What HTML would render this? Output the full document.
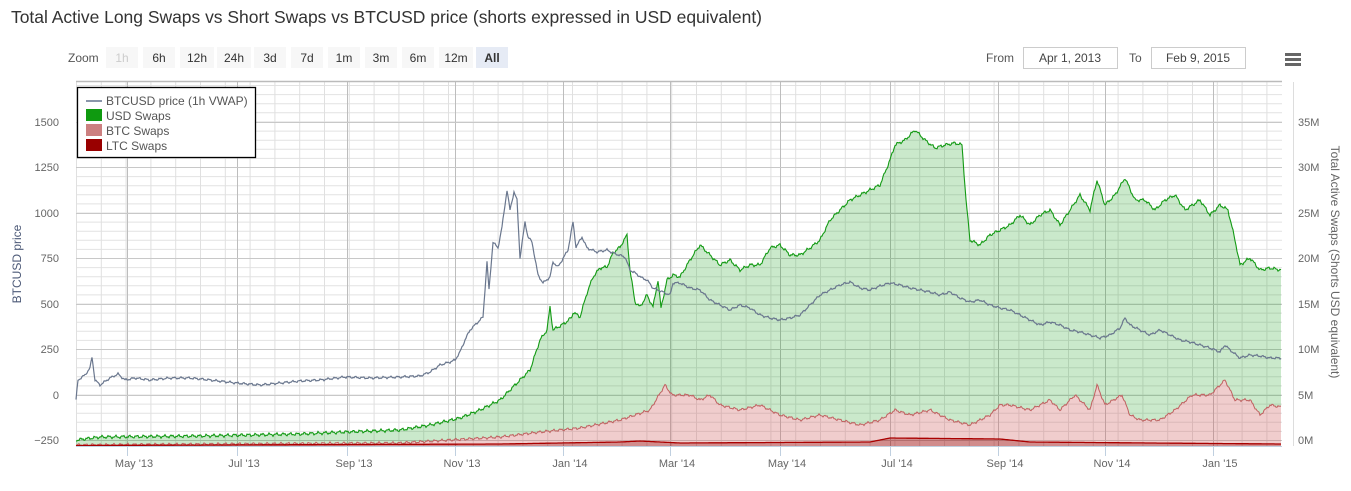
<!DOCTYPE html>
<html><head><meta charset="utf-8"><style>
body{margin:0;background:#fff;width:1351px;height:486px;overflow:hidden;font-family:"Liberation Sans",sans-serif}
</style></head><body>
<svg id="s" width="1351" height="486" xmlns="http://www.w3.org/2000/svg" font-family="Liberation Sans, sans-serif">
<text x="11" y="23" font-size="17.5" fill="#333" textLength="751">Total Active Long Swaps vs Short Swaps vs BTCUSD price (shorts expressed in USD equivalent)</text>
<g id="zoom" font-size="12"></g>
<text x="986" y="62" font-size="12" fill="#555">From</text>
<rect x="1023.5" y="47.5" width="94" height="21" fill="#fff" stroke="#ccc"/>
<text x="1070" y="62" font-size="12" fill="#444" text-anchor="middle">Apr 1, 2013</text>
<text x="1129" y="62" font-size="12" fill="#555">To</text>
<rect x="1151.5" y="47.5" width="94" height="21" fill="#fff" stroke="#ccc"/>
<text x="1198" y="62" font-size="12" fill="#444" text-anchor="middle">Feb 9, 2015</text>
<g fill="#666"><rect x="1285" y="53" width="16" height="3"/><rect x="1285" y="58" width="16" height="3"/><rect x="1285" y="63" width="16" height="3"/></g>
<g id="grid"></g>
<g id="series"></g>
<line x1="76" y1="81.5" x2="1282" y2="81.5" stroke="#bbb" stroke-width="1.5"/>
<line x1="76" y1="446.5" x2="1282" y2="446.5" stroke="#c0d0e0"/>
<line x1="1293.5" y1="82" x2="1293.5" y2="446" stroke="#ddd"/>
<g id="labels" font-size="11" fill="#666"></g>
<text transform="translate(21,264) rotate(-90)" font-size="12" fill="#4d5a78" text-anchor="middle">BTCUSD price</text>
<text transform="translate(1331,262) rotate(90)" font-size="12" fill="#666" text-anchor="middle">Total Active Swaps (Shorts USD equivalent)</text>
<rect x="77.5" y="87.5" width="178" height="70" fill="#fff" stroke="#000" stroke-width="1.3"/>
<line x1="86" y1="101" x2="102" y2="101" stroke="#8a96aa" stroke-width="2"/>
<text x="106" y="105" font-size="12" fill="#555">BTCUSD price (1h VWAP)</text>
<rect x="86" y="109" width="16" height="12" fill="#0f9a10"/>
<text x="106" y="120" font-size="12" fill="#555">USD Swaps</text>
<rect x="86" y="124" width="16" height="12" fill="#cc8080"/>
<text x="106" y="135" font-size="12" fill="#555">BTC Swaps</text>
<rect x="86" y="139" width="16" height="12" fill="#990000"/>
<text x="106" y="150" font-size="12" fill="#555">LTC Swaps</text>
</svg>
<script>
const NS="http://www.w3.org/2000/svg";
function el(p,t,a,txt){const e=document.createElementNS(NS,t);for(const k in a)e.setAttribute(k,a[k]);if(txt!=null)e.textContent=txt;document.getElementById(p).appendChild(e);return e;}
const btns=[["1h",106,32],["6h",143,32],["12h",180,34],["24h",217,34],["3d",254,32],["7d",291,32],["1m",328,32],["3m",365,32],["6m",402,32],["12m",439,34],["All",476,32]];
el("zoom","text",{x:68,y:62,fill:"#555"},"Zoom");
btns.forEach((b,i)=>{el("zoom","rect",{x:b[1],y:47,width:b[2],height:21,fill:i==10?"#e6ebf5":"#f7f7f7"});
el("zoom","text",{x:b[1]+b[2]/2,y:62,"text-anchor":"middle",fill:i==0?"#ccc":"#333","font-weight":i==10?"bold":"normal"},b[0]);});
for(let y=122;y<=446;y+=9.1){el("grid","line",{x1:76,x2:1282,y1:y.toFixed(1),y2:y.toFixed(1),stroke:"#e2e2e2"});}
for(let y=85.5;y<122;y+=9.1){el("grid","line",{x1:76,x2:1282,y1:y.toFixed(1),y2:y.toFixed(1),stroke:"#e2e2e2"});}
for(let x=76.5;x<1282;x+=24.8){el("grid","line",{x1:x.toFixed(1),x2:x.toFixed(1),y1:82,y2:446,stroke:"#e0e0e0"});}
const majors=[127,237,347,455,563,670,780,890,998,1105,1213];
majors.forEach(x=>el("grid","line",{x1:x+.5,x2:x+.5,y1:82,y2:446,stroke:"#bdbdbd"}));
[122,167,213,258,304,349,395,440].forEach(y=>el("grid","line",{x1:76,x2:1282,y1:y+.5,y2:y+.5,stroke:"#c8c8c8"}));
const ly=[[1500,122],[1250,167],[1000,213],[750,258],[500,304],[250,349],[0,395],[-250,440]];
ly.forEach(l=>el("labels","text",{x:59,y:l[1]+4,"text-anchor":"end"},l[0]==-250?"−250":l[0]));
[["35M",122],["30M",167],["25M",213],["20M",258],["15M",304],["10M",349],["5M",395],["0M",440]].forEach(l=>el("labels","text",{x:1298,y:l[1]+4},l[0]));
const xl=["May '13","Jul '13","Sep '13","Nov '13","Jan '14","Mar '14","May '14","Jul '14","Sep '14","Nov '14","Jan '15"];
xl.forEach((t,i)=>{const x=majors[i];el("labels","line",{x1:x+.5,x2:x+.5,y1:446,y2:456,stroke:"#c0d0e0"});el("labels","text",{x:x+7,y:467,"text-anchor":"middle"},t);});
function interp(pts){const out=[];for(let x=76;x<=1281;x++){let i=0;while(i<pts.length-2&&pts[i+1][0]<x)i++;const a=pts[i],b=pts[i+1];const t=(x-a[0])/((b[0]-a[0])||1);out.push([x,a[1]+(b[1]-a[1])*Math.max(0,Math.min(1,t))]);}return out;}
function noise(arr,amp,seed){return arr.map(p=>[p[0],p[1]+amp*(Math.sin(p[0]*0.9+seed)*0.6+Math.sin(p[0]*2.3+seed*2)*0.4)]);}
const price=[[76,400],[78,380],[85,375],[90,368],[92,357],[95,380],[100,385],[110,378],[118,374],[125,380],[135,378],[150,380],[170,378],[190,378],[210,380],[236,383],[260,385],[280,383],[300,381],[320,380],[345,377],[370,378],[400,377],[420,376],[430,372],[440,365],[450,362],[455,360],[460,352],[465,340],[470,330],[475,325],[483,317],[487,262],[489,290],[493,242],[498,248],[502,227],[507,190],[510,210],[514,192],[517,200],[520,258],[525,222],[528,237],[532,242],[538,275],[543,283],[550,277],[553,262],[558,267],[568,250],[573,222],[576,247],[582,237],[587,248],[597,252],[607,250],[613,253],[625,257],[630,270],[635,273],[642,278],[647,280],[653,288],[670,295],[673,283],[680,283],[690,288],[700,290],[710,300],[720,305],[730,310],[740,305],[750,308],[760,315],[770,318],[780,320],[790,318],[800,315],[810,305],[820,295],[830,290],[840,285],[850,282],[860,288],[870,290],[880,286],[890,283],[900,285],[910,288],[920,290],[930,292],[940,295],[950,292],[960,298],[970,302],[980,300],[990,305],[1000,308],[1010,310],[1020,315],[1030,320],[1040,325],[1050,322],[1060,325],[1070,330],[1080,332],[1090,335],[1100,338],[1110,335],[1120,328],[1125,318],[1130,325],[1140,330],[1150,335],[1160,330],[1170,335],[1180,340],[1190,342],[1200,345],[1210,348],[1220,352],[1225,345],[1230,350],[1240,358],[1250,355],[1260,356],[1270,358],[1281,358]];
const usd=[[76,440],[100,437],[200,436],[300,434],[345,432],[400,430],[430,425],[460,418],[480,410],[500,400],[515,385],[530,370],[540,340],[547,330],[550,307],[553,330],[565,323],[572,317],[573,312],[580,317],[587,293],[593,277],[600,268],[607,267],[613,253],[620,247],[627,235],[630,270],[635,302],[640,307],[647,295],[653,307],[658,280],[661,308],[667,280],[673,275],[680,277],[690,260],[700,245],[710,255],[720,265],[730,260],[740,270],[750,265],[760,265],[770,248],[780,245],[790,255],[800,255],[810,248],[820,240],[830,220],[840,210],[850,200],[860,195],[870,190],[880,185],[890,160],[895,145],[905,140],[915,130],[925,140],[935,148],[945,145],[955,143],[962,145],[966,200],[970,240],[980,245],[990,235],[1000,230],[1010,225],[1020,215],[1030,225],[1040,215],[1050,210],[1060,225],[1070,210],[1080,195],[1090,210],[1097,180],[1105,205],[1115,195],[1125,178],[1135,200],[1145,200],[1155,210],[1165,200],[1175,195],[1185,210],[1200,200],[1210,215],[1220,205],[1228,210],[1235,240],[1240,265],[1250,258],[1260,270],[1270,268],[1281,270]];
const btc=[[76,445],[400,443],[450,440],[500,437],[540,432],[580,428],[620,420],[650,410],[665,385],[672,395],[690,395],[700,400],[710,395],[720,405],[740,410],[760,405],[780,415],[800,420],[820,415],[840,420],[860,425],[880,420],[895,410],[910,415],[930,410],[950,420],[970,425],[990,415],[1000,405],[1010,405],[1030,410],[1050,400],[1060,410],[1075,395],[1090,410],[1097,385],[1105,405],[1122,395],[1130,415],[1140,420],[1160,420],[1175,410],[1192,395],[1210,395],[1225,380],[1235,400],[1250,400],[1260,415],[1270,405],[1281,407]];
const ltc=[[76,445.5],[500,444],[620,442],[640,441],[680,443],[870,442],[890,438],[1000,439],[1030,442],[1150,443],[1281,444]];
function path(a){return a.map((p,i)=>(i?"L":"M")+p[0]+" "+p[1].toFixed(1)).join("");}
function area(a){return path(a)+"L1281 446L76 446Z";}
function band(top,bot){return path(top)+bot.slice().reverse().map(p=>"L"+p[0]+" "+p[1].toFixed(1)).join("")+"Z";}
const U=noise(interp(usd),1.8,1).map(p=>[p[0],Math.min(p[1],445)]);
const B=noise(interp(btc),1.5,3).map(p=>[p[0],Math.min(p[1],445.5)]);
const L=interp(ltc);
const P=noise(interp(price),1.3,5);
const B2=B.map((p,i)=>[p[0],Math.max(p[1],U[i][1])]);
el("series","path",{d:band(U,B2),fill:"rgba(15,154,16,0.22)"});
el("series","path",{d:path(U),fill:"none",stroke:"#139a14","stroke-width":1.1});
el("series","path",{d:band(B,L),fill:"rgba(204,90,90,0.3)"});
el("series","path",{d:path(B),fill:"none",stroke:"#c06060","stroke-width":1});
el("series","path",{d:area(L),fill:"rgba(153,0,0,0.45)"});
el("series","path",{d:path(L),fill:"none",stroke:"#aa0000","stroke-width":1.3});
el("series","path",{d:path(P),fill:"none",stroke:"#6a778e","stroke-width":1.2});
</script>
</body></html>
